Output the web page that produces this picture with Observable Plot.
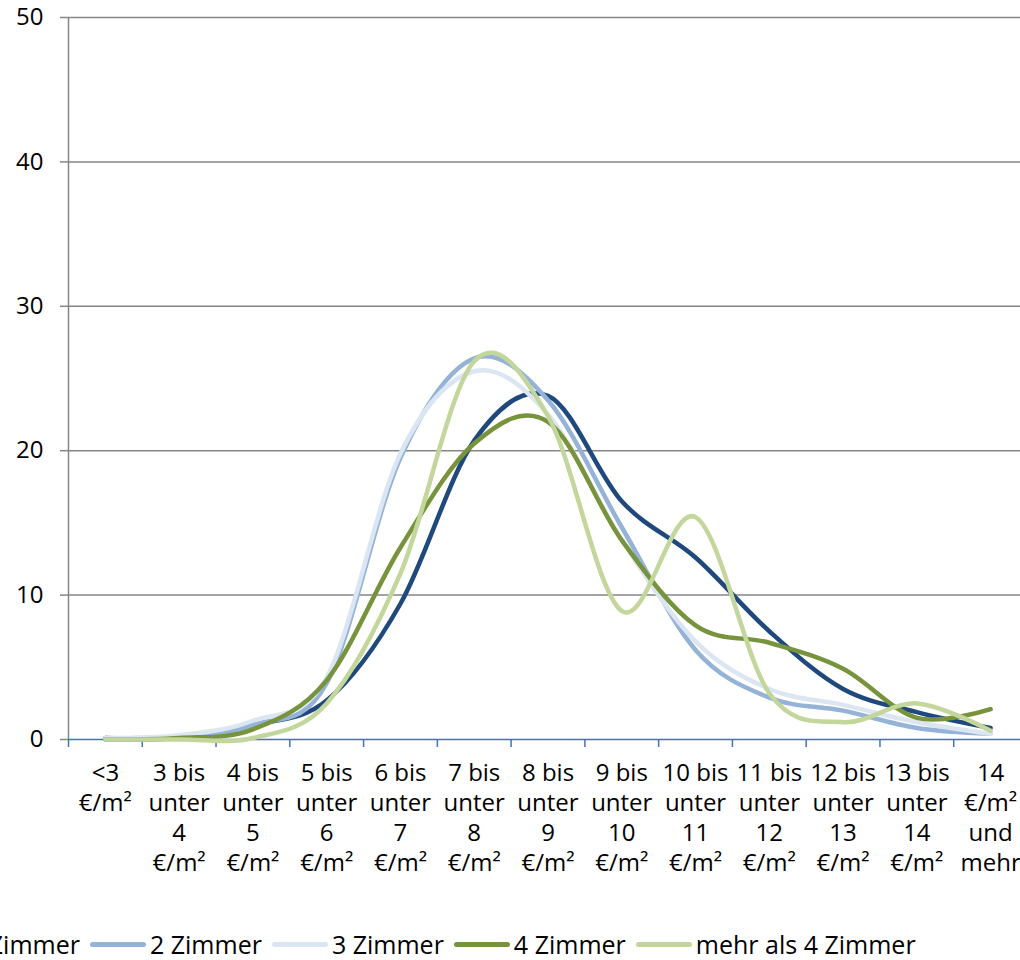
<!DOCTYPE html>
<html><head><meta charset="utf-8">
<script src="https://cdn.jsdelivr.net/npm/d3@7"></script>
<script src="https://cdn.jsdelivr.net/npm/@observablehq/plot@0.6"></script>
<style>
html,body{margin:0;padding:0;background:#fff;overflow:hidden;width:1020px;height:960px;}
#wrap{position:relative;width:1020px;height:960px;overflow:hidden;}
#chart{position:absolute;left:0;top:0;width:1040px;}
#chart svg{max-width:none !important;}
#legend{position:absolute;top:927px;left:-92px;display:flex;align-items:center;white-space:nowrap;font-family:"Open Sans",sans-serif;font-size:25px;color:#000;}
.item{display:flex;align-items:center;margin-right:10px}
.sw{width:56px;height:5px;border-radius:3px;margin-right:4px}
</style></head>
<body><div id="wrap"><div id="chart"></div><div id="legend"></div></div>
<script>
const categories = [
  "<3\n€/m²", "3 bis\nunter\n4\n€/m²", "4 bis\nunter\n5\n€/m²", "5 bis\nunter\n6\n€/m²",
  "6 bis\nunter\n7\n€/m²", "7 bis\nunter\n8\n€/m²", "8 bis\nunter\n9\n€/m²", "9 bis\nunter\n10\n€/m²",
  "10 bis\nunter\n11\n€/m²", "11 bis\nunter\n12\n€/m²", "12 bis\nunter\n13\n€/m²", "13 bis\nunter\n14\n€/m²",
  "14\n€/m²\nund\nmehr"
];
const series = ["1 Zimmer", "2 Zimmer", "3 Zimmer", "4 Zimmer", "mehr als 4 Zimmer"];
const zimmer1 = [0.1, 0.1, 1.0, 2.7, 9.4, 20.7, 23.8, 16.5, 12.6, 7.5, 3.5, 1.9, 0.8];
const zimmer2 = [0.1, 0.2, 1.0, 3.9, 19.5, 26.4, 23.5, 14.7, 6.2, 2.9, 2.0, 0.8, 0.4];
const zimmer3 = [0.1, 0.3, 1.3, 4.3, 19.8, 25.5, 22.5, 13.8, 6.8, 3.5, 2.4, 1.2, 0.4];
const zimmer4 = [0.0, 0.1, 0.7, 4.1, 13.3, 20.5, 22.0, 13.8, 7.9, 6.7, 4.9, 1.5, 2.1];
const zimmerMehr = [0.0, 0.0, 0.1, 2.5, 11.5, 26.2, 22.4, 8.9, 15.4, 3.2, 1.2, 2.5, 0.6];
const colors = ["#1F497D", "#95B3D7", "#DCE6F2", "#77933C", "#C3D69B"];
const yTicks = [0, 10, 20, 30, 40, 50];

const values = [zimmer1, zimmer2, zimmer3, zimmer4, zimmerMehr];
const data = [];
series.forEach((s, k) => values[k].forEach((v, i) => data.push({i, series: s, value: v})));

const idx = d3.range(categories.length);
const bounds = d3.range(categories.length + 1).map(i => i - 0.5);

const chart = Plot.plot({
  width: 1040, height: 890,
  marginLeft: 68, marginRight: 13, marginTop: 17, marginBottom: 151,
  style: {fontFamily: "'Open Sans', sans-serif", fontSize: "24px", color: "#000", background: "white", maxWidth: "none"},
  x: {type: "linear", domain: [bounds[0], bounds[bounds.length - 1]]},
  y: {domain: [0, 50]},
  color: {domain: series, range: colors},
  marks: [
    Plot.ruleY(yTicks.filter(d => d > 0), {stroke: "#868686", strokeWidth: 1.5}),
    Plot.axisY({ticks: yTicks, tickSize: 8, tickPadding: 17, stroke: "#868686", strokeWidth: 1.5, label: null, fontSize: 24}),
    Plot.ruleX([bounds[0]], {stroke: "#868686", strokeWidth: 1.5}),
    Plot.axisX({ticks: bounds, tickSize: 8, tickFormat: () => "", stroke: "#3A75C4", strokeWidth: 1.5, label: null}),
    Plot.ruleY([0], {stroke: "#3A75C4", strokeWidth: 1.5}),
    Plot.axisX({ticks: idx, tickSize: 0, tickPadding: 20, tickFormat: i => categories[i], lineHeight: 1.25, label: null, fontSize: 24}),
    Plot.line(data, {x: "i", y: "value", z: "series", stroke: "series", strokeWidth: 4.5, curve: "cardinal", tension: 0, strokeLinecap: "round"})
  ]
});
document.getElementById("chart").appendChild(chart);

const legend = document.getElementById("legend");
series.forEach((s, k) => {
  const item = document.createElement("div");
  item.className = "item";
  const sw = document.createElement("div");
  sw.className = "sw";
  sw.style.background = colors[k];
  const t = document.createElement("span");
  t.textContent = s;
  item.appendChild(sw); item.appendChild(t);
  legend.appendChild(item);
});
</script>
</body></html>
